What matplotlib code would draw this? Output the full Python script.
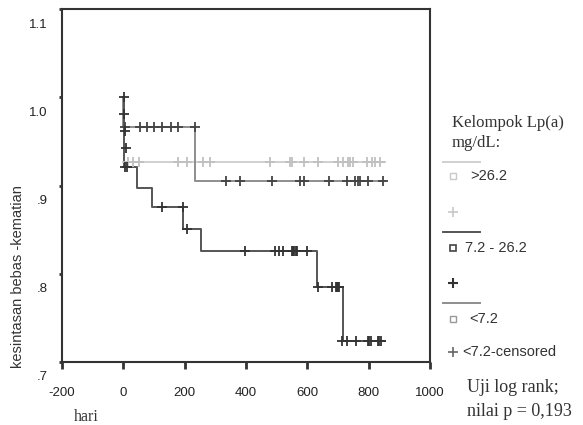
import matplotlib
matplotlib.use("Agg")
import matplotlib.pyplot as plt
from matplotlib.lines import Line2D
from matplotlib.transforms import ScaledTranslation

# Kaplan-Meier curves (hari, survival)
darkTimes = [0, 3, 3, 3, 3, 45, 93, 196, 253, 631, 716]
darkSurv = [1.0, 0.981, 0.962, 0.943, 0.921, 0.897, 0.876, 0.851, 0.826, 0.785, 0.724]
darkEnd = 853
darkCensX = [2, 3, 5, 8, 5, 13, 125, 193, 209, 397, 494, 507, 520, 550, 554, 558, 562, 566, 599,
             635, 680, 693, 697, 700, 703, 713, 729, 758, 798, 802, 807, 830, 835, 840]
darkCensY = [1.0, 0.981, 0.962, 0.943, 0.921, 0.921, 0.876, 0.876, 0.851, 0.826, 0.826, 0.826,
             0.826, 0.826, 0.826, 0.826, 0.826, 0.826, 0.826, 0.785, 0.785, 0.785, 0.785, 0.785,
             0.785, 0.724, 0.724, 0.724, 0.724, 0.724, 0.724, 0.724, 0.724, 0.724]

midTimes = [0, 234]
midSurv = [0.966, 0.905]
midEnd = 852
midCensX = [5, 54, 76, 100, 125, 154, 179, 233, 335, 380, 484, 576, 589, 672, 728, 755, 766,
            772, 799, 848]
midCensY = [0.966] * 8 + [0.905] * 12

lightTimes = [0]
lightSurv = [0.927]
lightEnd = 853
lightCensX = [16, 33, 52, 179, 207, 261, 283, 478, 543, 549, 589, 636, 701, 717, 734, 739, 750,
              793, 810, 821, 837]
lightCensY = [0.927] * len(lightCensX)

xTicks = [-200, 0, 200, 400, 600, 800, 1000]
xTickLabels = ["-200", "0", "200", "400", "600", "800", "1000"]
yTicks = [0.7, 0.8, 0.9, 1.0, 1.1]
yTickLabels = [".7", ".8", ".9", "1.0", "1.1"]

legendTitle = ["Kelompok Lp(a)", "mg/dL:"]
legendLabels = [">26.2", "7.2 - 26.2", "<7.2", "<7.2-censored"]

sansNarrow = ["Liberation Sans Narrow", "Liberation Sans", "DejaVu Sans"]
serif = "Liberation Serif"

fig = plt.figure(figsize=(5.83, 4.25), dpi=100)
ax = fig.add_axes([62 / 583, 1 - 362 / 425, 368 / 583, 353 / 425])

darkCol, midCol, lightCol = "#555555", "#8e8e8e", "#d0d0d0"


def stepCurve(times, surv, end, color):
    xs = list(times) + [end]
    ys = list(surv) + [surv[-1]]
    ax.step(xs, ys, where="post", color=color, lw=1.4, zorder=2)


# light first, then the others on top
stepCurve(lightTimes, lightSurv, lightEnd, lightCol)
ax.plot([0, 0], [1.0, midSurv[0]], color=midCol, lw=1.4, zorder=2)
stepCurve(midTimes, midSurv, midEnd, midCol)
ax.plot([0, darkTimes[1]], [1.0, 1.0], color=darkCol, lw=1.4, zorder=3)
stepCurve(darkTimes, darkSurv, darkEnd, darkCol)

ax.plot(lightCensX, lightCensY, ls="none", marker="+", ms=7, mew=1.3, color="#c0c0c0", zorder=2)
ax.plot(midCensX, midCensY, ls="none", marker="+", ms=7, mew=1.3, color="#444444", zorder=4)
ax.plot(darkCensX, darkCensY, ls="none", marker="+", ms=7, mew=1.3, color="#333333", zorder=4)

ax.set_xlim(-200, 1000)
ax.set_ylim(0.7, 1.1)
ax.set_xticks(xTicks)
ax.set_xticklabels(xTickLabels, family=sansNarrow)
ax.set_yticks(yTicks)
ax.set_yticklabels(yTickLabels, family=sansNarrow)

for sp in ax.spines.values():
    sp.set_linewidth(1.5)
    sp.set_color("#333333")

ax.tick_params(axis="x", direction="out", length=5, width=2, color="#333333",
               labelsize=9.5, pad=13, labelcolor="#222222")
ax.tick_params(axis="y", direction="out", length=2.5, width=2, color="#333333",
               labelsize=9.5, pad=8, labelcolor="#222222")

# y labels sit below their ticks in the original
shift = ScaledTranslation(0, -0.14, fig.dpi_scale_trans)
for lab in ax.get_yticklabels():
    lab.set_transform(lab.get_transform() + shift)

fig.text(18 / 583, 1 - 277 / 425, "kesintasan bebas -kematian", rotation=90,
         ha="center", va="center", fontsize=10.5, family=sansNarrow, color="#333333")
fig.text(86 / 583, 1 - 417 / 425, "hari", ha="center", va="center",
         fontsize=11.5, family=serif, color="#333333")


# legend drawn by hand in figure pixels
def fx(px):
    return px / 583


def fy(py):
    return 1 - py / 425


fig.text(fx(452), fy(123), legendTitle[0], ha="left", va="center", fontsize=12,
         family=serif, color="#333333")
fig.text(fx(452), fy(143), legendTitle[1], ha="left", va="center", fontsize=12,
         family=serif, color="#333333")

lineY = [162, 232, 303]
lineCols = [lightCol, darkCol, midCol]
for yy, cc in zip(lineY, lineCols):
    fig.add_artist(Line2D([fx(443), fx(480)], [fy(yy), fy(yy)], color=cc, lw=1.4))

fig.add_artist(Line2D([fx(453)], [fy(176)], marker="s", ms=5, mfc="none", mec="#c8c8c8", mew=1))
fig.text(fx(470), fy(176), legendLabels[0], ha="left", va="center", fontsize=10.5,
         family=sansNarrow, color="#333333")
fig.add_artist(Line2D([fx(453)], [fy(212)], marker="+", ms=6.5, mew=1.2, color="#c8c8c8"))

fig.add_artist(Line2D([fx(453)], [fy(248)], marker="s", ms=4, mfc="none", mec="#444444", mew=1.2))
fig.text(fx(465), fy(248), legendLabels[1], ha="left", va="center", fontsize=10.5,
         family=sansNarrow, color="#333333")
fig.add_artist(Line2D([fx(453)], [fy(283)], marker="+", ms=6.5, mew=1.5, color="#333333"))

fig.add_artist(Line2D([fx(453)], [fy(319)], marker="s", ms=5, mfc="none", mec="#999999", mew=1))
fig.text(fx(469), fy(319), legendLabels[2], ha="left", va="center", fontsize=10.5,
         family=sansNarrow, color="#333333")
fig.add_artist(Line2D([fx(453)], [fy(352)], marker="+", ms=6.5, mew=1.2, color="#666666"))
fig.text(fx(462), fy(352), legendLabels[3], ha="left", va="center", fontsize=10.5,
         family=sansNarrow, color="#333333")

fig.text(fx(467), fy(387), "Uji log rank;", ha="left", va="center", fontsize=13,
         family=serif, color="#333333")
fig.text(fx(467), fy(411), "nilai p = 0,193", ha="left", va="center", fontsize=13,
         family=serif, color="#333333")

fig.savefig("out.png", dpi=100)
